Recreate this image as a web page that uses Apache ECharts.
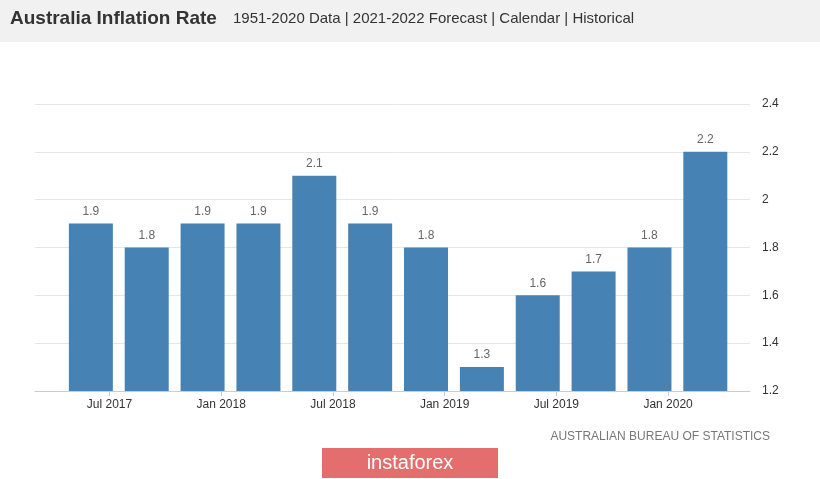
<!DOCTYPE html>
<html><head><meta charset="utf-8">
<script src="https://cdn.jsdelivr.net/npm/echarts@6/dist/echarts.min.js"></script>
<style>body{margin:0;background:#fff}#c{width:820px;height:479px}</style>
</head><body><div id="c"></div>
<script>
// month index counted from Jan 2017 (0)
const months = [5, 8, 11, 14, 17, 20, 23, 26, 29, 32, 35, 38];
const values = [1.9, 1.8, 1.9, 1.9, 2.1, 1.9, 1.8, 1.3, 1.6, 1.7, 1.8, 2.2];
const tickMonths = [6, 12, 18, 24, 30, 36];
const tickLabels = ['Jul 2017', 'Jan 2018', 'Jul 2018', 'Jan 2019', 'Jul 2019', 'Jan 2020'];

const chart = echarts.init(document.getElementById('c'));
chart.setOption({
  animation: false,
  graphic: [
    {type: 'rect', shape: {x: 0, y: 0, width: 820, height: 42}, style: {fill: '#f1f1f1'}},
    {type: 'text', left: 10, top: 9, style: {text: 'Australia Inflation Rate', font: 'bold 19px Arial, "Liberation Sans"', fill: '#333'}},
    {type: 'text', left: 233, top: 11, style: {text: '1951-2020 Data | 2021-2022 Forecast | Calendar | Historical', font: '15px Arial, "Liberation Sans"', fill: '#333'}},
    {type: 'text', right: 50, top: 431, style: {text: 'AUSTRALIAN BUREAU OF STATISTICS', font: '12px Arial, "Liberation Sans"', fill: '#777'}},
    {type: 'rect', shape: {x: 322, y: 448, width: 176, height: 30}, style: {fill: '#e46d6d'}},
    {type: 'text', x: 410, y: 463, style: {text: 'instaforex', font: '20px Arial, "Liberation Sans"', fill: '#fff', align: 'center', verticalAlign: 'middle'}}
  ],
  grid: {left: 35, right: 70, top: 104, bottom: 88},
  xAxis: {
    type: 'value', min: 2, max: 40.4,
    splitLine: {show: false},
    axisLine: {show: true, lineStyle: {color: '#ccc'}},
    axisTick: {show: true, customValues: tickMonths, length: 5, lineStyle: {color: '#ccc'}},
    axisLabel: {customValues: tickMonths, color: '#333', fontSize: 12, margin: 8,
      formatter: v => tickLabels[tickMonths.indexOf(v)] || ''}
  },
  yAxis: {
    type: 'value', position: 'right', min: 1.2, max: 2.4, interval: 0.2,
    axisLine: {show: false}, axisTick: {show: false},
    splitLine: {lineStyle: {color: '#e6e6e6'}},
    axisLabel: {color: '#333', fontSize: 12, margin: 12, formatter: v => String(+v.toFixed(1))}
  },
  series: [{
    type: 'bar', barWidth: 44,
    data: months.map((m, i) => [m, values[i]]),
    itemStyle: {color: '#4682b4'},
    label: {show: true, position: 'top', color: '#666', fontSize: 12, distance: 6,
      formatter: p => p.value[1].toFixed(1)}
  }]
});
</script></body></html>
